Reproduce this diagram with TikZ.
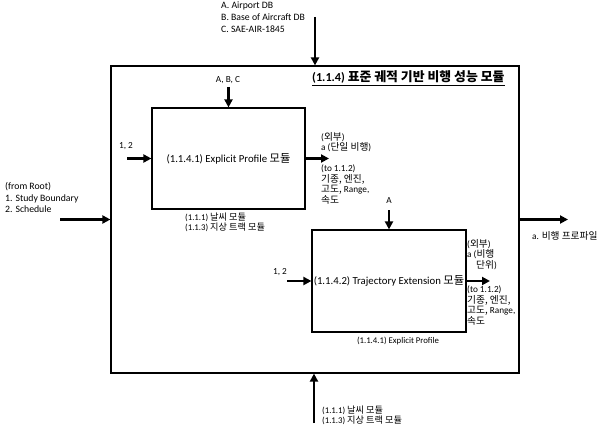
\documentclass[tikz,border=0pt]{standalone}
\usepackage{fontspec}
\setmainfont{Carlito}
\newfontfamily\krfont{Noto Sans CJK KR}[Scale=1.05]
\newcommand{\ko}[1]{{\krfont #1}}
\usetikzlibrary{positioning}
\usetikzlibrary{arrows.meta}

\begin{document}
\begin{tikzpicture}[x=1pt, y=-1pt,
                modulebox/.style={rectangle, draw, line width=1.2pt, inner sep=0pt, font=\fontsize{10.75}{12}\selectfont},
                flow/.style={line width=2.2pt, -{Triangle[length=8pt, width=8pt]}},
                note/.style={align=left, inner sep=0pt, font=\fontsize{9.75}{11.75}\selectfont},
                outnote/.style={align=left, inner sep=0pt, font=\fontsize{9.25}{10.5}\selectfont},
                smallnote/.style={align=left, inner sep=0pt, font=\fontsize{8.75}{10}\selectfont},
            ]
            \useasboundingbox (0,0) rectangle (608,436);
            % Nodes
            \node[modulebox, minimum width=408pt, minimum height=307pt] (system) at (315,219.5) {};
            \node[anchor=west, inner sep=0pt, font=\bfseries\fontsize{12.25}{13}\selectfont] (title) at (312,78) {\underline{(1.1.4) \ko{표준 궤적 기반 비행 성능 모듈}}};

            \node[modulebox, minimum width=153pt, minimum height=101pt] (ep_box) at (228.5,158.5) {(1.1.4.1) Explicit Profile \ko{모듈}};
            \node[modulebox, minimum width=154pt, minimum height=102pt] (te_box) at (389,281) {(1.1.4.2) Trajectory Extension \ko{모듈}};

            \node[note, anchor=north west]      (ext_inputs)   at (221,2)     {A. Airport DB\\B. Base of Aircraft DB\\C. SAE-AIR-1845};
            \node[note, anchor=north west]      (root_inputs)  at (5,182)     {(from Root)\\1. Study Boundary\\2. Schedule};
            \node[outnote, anchor=north west]   (sys_output)   at (532,231)   {a. \ko{비행 프로파일}};
            \node[smallnote, anchor=north west] (sys_ctrl)     at (322,406)   {(1.1.1) \ko{날씨 모듈}\\(1.1.3) \ko{지상 트랙 모듈}};

            \node[outnote, anchor=south]        (abc_label)    at (228,84)    {A, B, C};
            \node[outnote]                      (ep_in_label)  at (126,146)   {1, 2};
            \node[smallnote, anchor=north west] (ep_ctrl)      at (185,213)   {(1.1.1) \ko{날씨 모듈}\\(1.1.3) \ko{지상 트랙 모듈}};
            \node[outnote, anchor=south west]   (ep_out_top)   at (321,152)   {(\ko{외부})\\a (\ko{단일 비행})};
            \node[outnote, anchor=north west]   (ep_out_bot)   at (321,165)   {(to 1.1.2)\\\ko{기종, 엔진,}\\\ko{고도,} Range,\\\ko{속도}};

            \node[outnote, anchor=south]        (a_label)      at (389,204)   {A};
            \node[outnote]                      (te_in_label)  at (280,272)   {1, 2};
            \node[smallnote]                    (te_ctrl)      at (398,341)   {(1.1.4.1) Explicit Profile};
            \node[outnote, anchor=north west]   (te_out_top)   at (467,239)   {(\ko{외부})\\a (\ko{비행}\\\hspace*{9pt}\ko{단위})};
            \node[outnote, anchor=north west]   (te_out_bot)   at (467,286)   {(to 1.1.2)\\\ko{기종, 엔진,}\\\ko{고도,} Range,\\\ko{속도}};

            % free ends
            \coordinate (top_in)    at (315,17);
            \coordinate (root_in)   at (60,219.5);
            \coordinate (sys_out)   at (568,219.5);
            \coordinate (bottom_in) at (314,423);
            \coordinate (abc_in)    at (228.5,87);
            \coordinate (ep_in)     at (127,158.5);
            \coordinate (ep_out)    at (329,158.5);
            \coordinate (a_in)      at (389,210);
            \coordinate (te_in)     at (287,281);
            \coordinate (te_out)    at (490,281);

            %Lines
            \draw[flow] (top_in) -- (top_in |- system.north);
            \draw[flow] (root_in) -- (system.west);
            \draw[flow] (system.east) -- (sys_out);
            \draw[flow] (bottom_in) -- (bottom_in |- system.south);

            \draw[flow] (abc_in) -- (ep_box.north);
            \draw[flow] (ep_in) -- (ep_box.west);
            \draw[flow] (ep_box.east) -- (ep_out);

            \draw[flow] (a_in) -- (te_box.north);
            \draw[flow] (te_in) -- (te_box.west);
            \draw[flow] (te_box.east) -- (te_out);
        \end{tikzpicture}
\end{document}
